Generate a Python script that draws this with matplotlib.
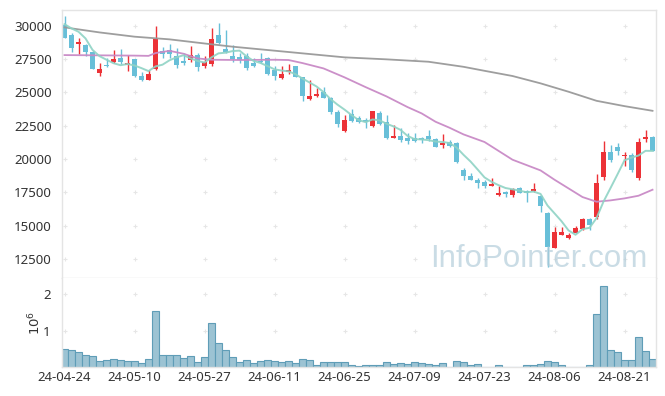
import matplotlib
matplotlib.use('Agg')
import matplotlib.pyplot as plt
import numpy as np
import pandas as pd

# daily OHLC, 85 trading days (24-04-24 .. 24-08-27)
opens = [30050, 29300, 28600, 28550, 28050, 26450, 27050, 27250, 27600, 27050,
         27500, 26250, 25950, 26750, 28100, 28150, 27700, 27350, 27400, 27800,
         26950, 27150, 29300, 28250, 27750, 27630, 27750, 27180, 27380, 27600,
         26700, 26050, 26550, 26980, 26150, 24500, 24700, 25050, 24550, 23550,
         22100, 23400, 23100, 22950, 22450, 23450, 22750, 21600, 21750, 21600,
         21550, 21550, 21730, 21480, 21050, 21300, 21180, 19180, 18750, 18430,
         18300, 18000, 17300, 17500, 17300, 17800, 17600, 17600, 17230, 15980,
         13350, 14300, 14050, 14480, 14730, 15500, 15630, 18630, 20500, 20930,
         20230, 20300, 18550, 21530, 21680]
highs = [30700, 29450, 29100, 28600, 28100, 27200, 27550, 28200, 28250, 27800,
         27500, 26500, 26700, 29950, 28400, 28600, 28350, 27950, 28500, 27950,
         27700, 29850, 30200, 29700, 28550, 27930, 27950, 27550, 27930, 27650,
         26950, 27000, 27100, 27000, 26150, 25950, 25300, 25400, 24650, 23700,
         23300, 23750, 23200, 23050, 23600, 23600, 23300, 22550, 22350, 21950,
         21950, 21680, 22180, 21550, 21850, 21430, 21300, 19350, 18930, 18580,
         18430, 18550, 18000, 17600, 17830, 17930, 17680, 18230, 17300, 16050,
         14930, 14930, 14430, 14980, 15550, 15550, 18850, 21380, 21050, 21180,
         20550, 20450, 21550, 22180, 21700]
lows = [29050, 28050, 27850, 27700, 26750, 26250, 26900, 27200, 27150, 26600,
        26150, 25850, 25900, 26650, 27550, 27550, 26800, 27050, 27300, 26600,
        26800, 26950, 28650, 27950, 27250, 27230, 26650, 26920, 27180, 26300,
        25900, 26000, 26400, 26150, 24350, 24450, 24650, 24550, 23400, 22400,
        22050, 22800, 22700, 22350, 22400, 22550, 21500, 21550, 21300, 21100,
        21300, 21180, 21350, 20930, 20850, 20900, 19680, 18430, 18430, 17850,
        17830, 17980, 17250, 17180, 17180, 17430, 16800, 17550, 16050, 11930,
        13350, 14280, 13980, 14430, 14680, 14680, 15530, 18430, 19800, 20300,
        19480, 19030, 18430, 21300, 20600]
closes = [29100, 28300, 28800, 28000, 26750, 26750, 26950, 27500, 27250, 27200,
          26200, 25950, 26400, 29000, 27850, 27850, 27050, 27200, 27800, 26900,
          27250, 29000, 28700, 28050, 27500, 27430, 26850, 27000, 27250, 26350,
          26200, 26400, 26700, 26180, 24700, 24750, 24900, 24600, 23550, 22600,
          22900, 22850, 22750, 22750, 23600, 22600, 21550, 21750, 21450, 21350,
          21380, 21430, 21480, 20930, 21180, 21000, 19750, 18730, 18430, 18230,
          17980, 18100, 17480, 17350, 17750, 17480, 17480, 17750, 16480, 13380,
          14550, 14530, 14300, 14850, 15480, 15050, 18180, 20500, 19930, 20630,
          20300, 19180, 21300, 21680, 20600]
# closes of the 4 sessions before the window (for the 5-day average)
prior_closes = [29900, 30050, 30500, 31050]

volumes = [490000, 470000, 410000, 330000, 300000, 160000, 190000, 220000, 200000, 160000,
           160000, 110000, 220000, 1530000, 330000, 330000, 330000, 250000, 300000, 140000,
           280000, 1200000, 660000, 470000, 280000, 140000, 190000, 110000, 160000, 190000,
           160000, 140000, 160000, 110000, 220000, 190000, 50000, 140000, 140000, 140000,
           140000, 50000, 30000, 50000, 50000, 50000, 140000, 80000, 110000, 80000,
           140000, 110000, 80000, 50000, 110000, 20000, 160000, 140000, 50000, 80000,
           20000, 20000, 50000, 20000, 20000, 20000, 50000, 50000, 80000, 160000,
           140000, 50000, 20000, 20000, 20000, 50000, 1460000, 2230000, 470000, 410000,
           190000, 190000, 820000, 440000, 220000]

# longer moving averages at selected sessions
ma20_idx = [0, 5, 10, 12, 13, 15, 17, 19, 21, 25, 30, 32, 34, 37, 40, 43, 46, 49,
            51, 53, 55, 57, 60, 64, 68, 70, 72, 74, 76, 78, 80, 82, 84]
ma20_val = [27800, 27780, 27760, 27740, 27950, 28120, 27900, 27550, 27450, 27430,
            27450, 27430, 27200, 26800, 26130, 25400, 24700, 23900, 23430, 22800,
            22350, 21850, 21280, 19950, 19150, 18450, 17800, 17150, 16800, 16900,
            17050, 17250, 17700]
malong_idx = [0, 5, 10, 15, 20, 24, 29, 34, 40, 46, 52, 57, 60, 64, 68, 72, 76, 80, 84]
malong_val = [29880, 29500, 29180, 28980, 28670, 28430, 28180, 27930, 27630, 27480,
              27300, 26920, 26620, 26230, 25680, 25050, 24370, 23970, 23620]

tick_pos = [0, 10, 20, 30, 40, 50, 60, 70, 80]
tick_labels = ['24-04-24', '24-05-10', '24-05-27', '24-06-11', '24-06-25',
               '24-07-09', '24-07-23', '24-08-06', '24-08-21']
price_ticks = [12500, 15000, 17500, 20000, 22500, 25000, 27500, 30000]
vol_ticks = [1, 2]

plt.rcParams['font.family'] = ['Noto Sans', 'DejaVu Sans']

RED = '#ec3237'
BLUE = '#68bfd8'
GRID = '#e6e6e6'
TXT = '#333333'

o = np.array(opens, float)
h = np.array(highs, float)
l = np.array(lows, float)
c = np.array(closes, float)
x = np.arange(len(c))
up = c >= o
colors = np.where(up, RED, BLUE)

ma5 = pd.Series(prior_closes + closes).rolling(5).mean().to_numpy()[len(prior_closes):]

fig = plt.figure(figsize=(6.65, 3.96), dpi=100)
ax = fig.add_axes([0.0928, 0.2987, 0.8937, 0.676])
axv = fig.add_axes([0.0928, 0.0725, 0.8937, 0.2262], sharex=ax)

# grid drawn as small crosses at tick intersections
gx, gy = np.meshgrid(tick_pos, price_ticks)
ax.plot(gx.ravel(), gy.ravel(), '+', color=GRID, ms=3.5, mew=0.8, zorder=0)
gx, gy = np.meshgrid(tick_pos, vol_ticks)
axv.plot(gx.ravel(), gy.ravel(), '+', color=GRID, ms=3.5, mew=0.8, zorder=0)

# candles
ax.vlines(x, l, h, colors=colors, linewidth=1.0, zorder=2)
body_lo = np.minimum(o, c)
body_h = np.maximum(np.abs(c - o), 80)
ax.bar(x, body_h, bottom=body_lo, width=0.62, color=colors, linewidth=0, zorder=2)

# moving averages
ax.plot(malong_idx, malong_val, color='#999999', lw=1.3, alpha=0.95, zorder=3)
ax.plot(ma20_idx, ma20_val, color='#c98ac6', lw=1.3, alpha=0.95, zorder=3)
ax.plot(x, ma5, color='#8fd3c5', lw=1.4, alpha=0.9, zorder=3)

ax.text(0.985, 0.041, 'InfoPointer.com', transform=ax.transAxes, ha='right',
        va='baseline', fontsize=22.5, family=['Liberation Sans', 'DejaVu Sans'],
        color='#b4cedb', alpha=0.7, zorder=4)

ax.set_xlim(-0.4, 84.5)
ax.set_ylim(11100, 31180)
ax.set_yticks(price_ticks)
ax.set_yticklabels([str(v) for v in price_ticks])
ax.tick_params(axis='y', length=0, pad=7, labelsize=9.5, labelcolor=TXT)
ax.tick_params(axis='x', length=0, labelbottom=False)

# volume
axv.bar(x, np.array(volumes) / 1e6, width=1.0, color='#9cc3d3',
        edgecolor='#5f9db7', linewidth=0.8, zorder=2)
axv.set_ylim(0, 2.45)
axv.set_yticks(vol_ticks)
axv.set_yticklabels([str(v) for v in vol_ticks])
axv.set_ylabel('$10^6$', color=TXT, fontsize=9.5, labelpad=0)
axv.set_xticks(tick_pos)
axv.set_xticklabels(tick_labels)
axv.tick_params(axis='both', length=0, labelsize=9.5, labelcolor=TXT)
axv.tick_params(axis='y', pad=8)
axv.tick_params(axis='x', pad=3)

for a in (ax, axv):
    for s in a.spines.values():
        s.set_color('#e4e4e4')
        s.set_linewidth(1.0)
axv.spines['top'].set_visible(False)

fig.savefig('out.png', dpi=100, facecolor='white')
